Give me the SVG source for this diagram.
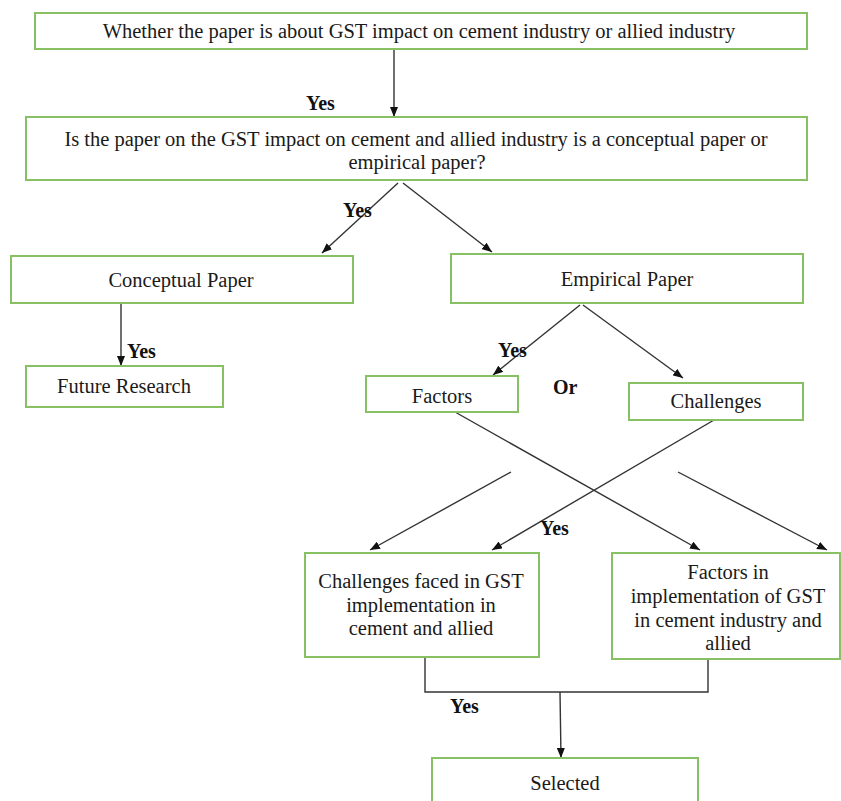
<svg xmlns="http://www.w3.org/2000/svg" width="841" height="801" viewBox="0 0 841 801">
<defs>
<marker id="ah" viewBox="0 0 10 8" refX="10" refY="4" markerWidth="10" markerHeight="8" markerUnits="userSpaceOnUse" orient="auto">
<path d="M0,0 L10,4 L0,8 z" fill="#111"/>
</marker>
<style>
.box{fill:#fff;stroke:#88c163;stroke-width:2}
.t{font-family:"Liberation Serif","Times New Roman",serif;font-size:20.5px;fill:#1a1a1a;text-anchor:middle}
.b{font-family:"Liberation Serif","Times New Roman",serif;font-size:20px;font-weight:bold;fill:#111}
.c{fill:none;stroke:#333;stroke-width:1.4}
</style>
</defs>
<rect width="841" height="801" fill="#fff"/>
<g id="connectors">
<line class="c" x1="394" y1="49" x2="394" y2="117" marker-end="url(#ah)"/>
<line class="c" x1="398" y1="183" x2="322" y2="253" marker-end="url(#ah)"/>
<line class="c" x1="403" y1="183" x2="492" y2="252" marker-end="url(#ah)"/>
<line class="c" x1="121" y1="303" x2="121" y2="366" marker-end="url(#ah)"/>
<line class="c" x1="580" y1="305" x2="493" y2="375" marker-end="url(#ah)"/>
<line class="c" x1="583" y1="305" x2="683" y2="378" marker-end="url(#ah)"/>
<line class="c" x1="455" y1="412" x2="700" y2="550" marker-end="url(#ah)"/>
<line class="c" x1="714" y1="420" x2="492" y2="550" marker-end="url(#ah)"/>
<line class="c" x1="511" y1="472" x2="370" y2="550" marker-end="url(#ah)"/>
<line class="c" x1="678" y1="472" x2="827" y2="550" marker-end="url(#ah)"/>
<polyline class="c" points="425,657 425,692 708,692 708,659"/>
<line class="c" x1="560" y1="692" x2="561" y2="758" marker-end="url(#ah)"/>
<text class="b" x="306" y="110">Yes</text>
<text class="b" x="343" y="217">Yes</text>
<text class="b" x="127" y="358">Yes</text>
<text class="b" x="498" y="357">Yes</text>
<text class="b" x="553" y="394">Or</text>
<text class="b" x="540" y="535">Yes</text>
<text class="b" x="450" y="713">Yes</text>
</g>
<g id="n1">
<rect class="box" x="35" y="13" width="772" height="36"/>
<text class="t" x="419" y="38">Whether the paper is about GST impact on cement industry or allied industry</text>
</g>
<g id="n2">
<rect class="box" x="26" y="117" width="781" height="63"/>
<text class="t" x="416" y="146">Is the paper on the GST impact on cement and allied industry is a conceptual paper or</text>
<text class="t" x="417" y="169">empirical paper?</text>
</g>
<g id="n3">
<rect class="box" x="11" y="256" width="342" height="47"/>
<text class="t" x="181" y="287">Conceptual Paper</text>
</g>
<g id="n4">
<rect class="box" x="451" y="254" width="352" height="49"/>
<text class="t" x="627" y="286">Empirical Paper</text>
</g>
<g id="n5">
<rect class="box" x="26" y="366" width="197" height="41"/>
<text class="t" x="124" y="393">Future Research</text>
</g>
<g id="n6">
<rect class="box" x="366" y="376" width="152" height="36"/>
<text class="t" x="442" y="403">Factors</text>
</g>
<g id="n7">
<rect class="box" x="629" y="383" width="174" height="37"/>
<text class="t" x="716" y="408">Challenges</text>
</g>
<g id="n8">
<rect class="box" x="305" y="553" width="234" height="104"/>
<text class="t" x="421" y="588">Challenges faced in GST</text>
<text class="t" x="421" y="612">implementation in</text>
<text class="t" x="421" y="635">cement and allied</text>
</g>
<g id="n9">
<rect class="box" x="612" y="553" width="228" height="106"/>
<text class="t" x="728" y="579">Factors in</text>
<text class="t" x="728" y="603">implementation of GST</text>
<text class="t" x="728" y="627">in cement industry and</text>
<text class="t" x="728" y="650">allied</text>
</g>
<g id="n10">
<rect class="box" x="432" y="758" width="266" height="50"/>
<text class="t" x="565" y="790">Selected</text>
</g>
</svg>
